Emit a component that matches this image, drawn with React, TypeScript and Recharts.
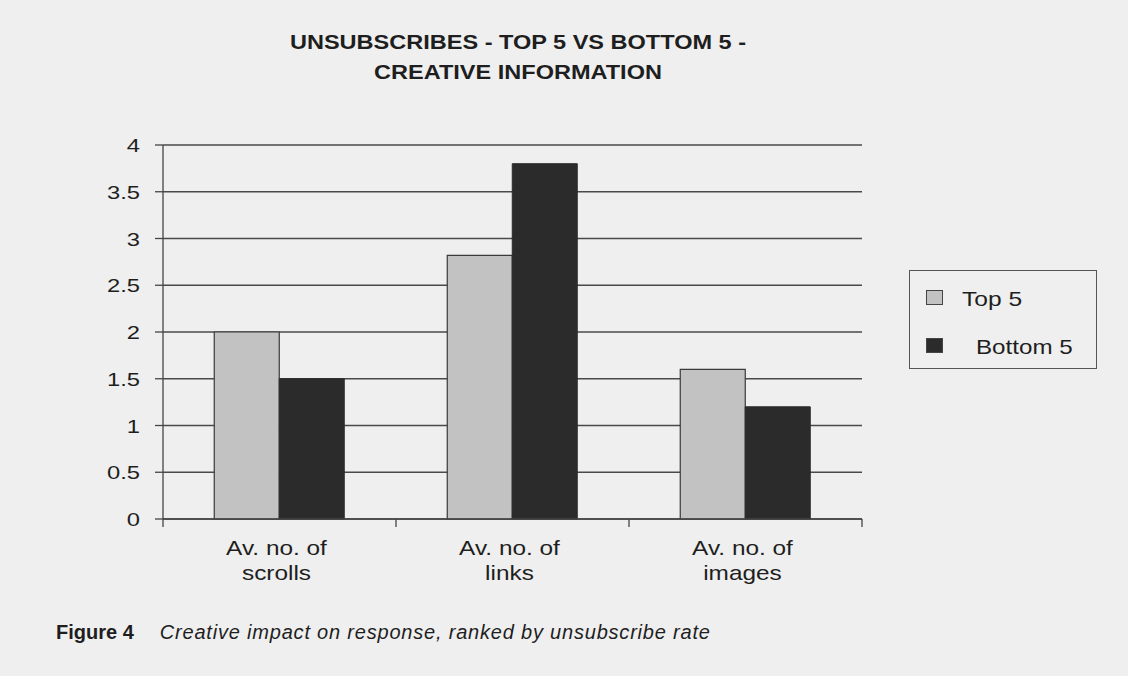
import React from "react";
import { BarChart, Bar, XAxis, YAxis, CartesianGrid, Legend } from "recharts";

const categories = ["Av. no. of\nscrolls", "Av. no. of\nlinks", "Av. no. of\nimages"];
const top5 = [2.0, 2.82, 1.6];
const bottom5 = [1.5, 3.8, 1.2];
const yTicks = [0, 0.5, 1, 1.5, 2, 2.5, 3, 3.5, 4];
const seriesNames = ["Top 5", "Bottom 5"];

const data = categories.map((c, i) => ({ name: c, top: top5[i], bottom: bottom5[i] }));

const FONT = '"Liberation Sans", Arial, Helvetica, sans-serif';
const TEXT = "#1e1e1e";

const XTick = (props: any) => {
  const { x, y, payload, index, width, visibleTicksCount } = props;
  const n = visibleTicksCount || categories.length;
  const band = width / n;
  const lines = String(payload.value).split("\n");
  return (
    <g>
      <line x1={x - band / 2} x2={x - band / 2} y1={y - 8} y2={y} stroke="#444" strokeWidth={1.3} />
      {index === n - 1 && (
        <line x1={x + band / 2} x2={x + band / 2} y1={y - 8} y2={y} stroke="#444" strokeWidth={1.3} />
      )}
      {lines.map((l, i) => (
        <text
          key={i}
          transform={`translate(${x - 3},${y + 28 + i * 25}) scale(1.22,1)`}
          textAnchor="middle"
          fontSize={20}
          fill={TEXT}
          fontFamily={FONT}
        >
          {l}
        </text>
      ))}
    </g>
  );
};

const YTick = (props: any) => {
  const { x, y, payload } = props;
  return (
    <text
      transform={`translate(${x},${y + 7}) scale(1.25,1)`}
      textAnchor="end"
      fontSize={19}
      fill={TEXT}
      fontFamily={FONT}
    >
      {payload.value}
    </text>
  );
};

const LegendBox = () => (
  <div
    style={{
      width: 188,
      height: 99,
      border: "1.5px solid #555",
      boxSizing: "border-box",
      fontFamily: FONT,
      fontSize: 21,
      color: TEXT,
      position: "relative",
    }}
  >
    <div style={{ position: "absolute", left: 16, top: 19, width: 15, height: 13, background: "#c2c2c2", border: "1px solid #444" }} />
    <div style={{ position: "absolute", left: 52, top: 16, whiteSpace: "nowrap", transform: "scaleX(1.17)", transformOrigin: "left center" }}>{seriesNames[0]}</div>
    <div style={{ position: "absolute", left: 16, top: 67, width: 15, height: 13, background: "#2b2b2b", border: "1px solid #444" }} />
    <div style={{ position: "absolute", left: 66, top: 64, whiteSpace: "nowrap", transform: "scaleX(1.15)", transformOrigin: "left center" }}>{seriesNames[1]}</div>
  </div>
);

export default function App() {
  return (
    <div style={{ position: "absolute", left: 0, top: 0, width: 1128, height: 676, background: "#efefef", fontFamily: FONT, overflow: "hidden" }}>
      <div style={{ position: "absolute", left: 0, width: 1036, top: 27, textAlign: "center", fontWeight: "bold", fontSize: 21, color: TEXT, lineHeight: "30px", transform: "scaleX(1.12)", transformOrigin: "518px 0" }}>
        <div>UNSUBSCRIBES - TOP 5 VS BOTTOM 5 -</div>
        <div>CREATIVE INFORMATION</div>
      </div>
      <BarChart
        width={1128}
        height={676}
        data={data}
        margin={{ top: 145, left: 103, right: 78, bottom: 77 }}
        barCategoryGap="22%"
        barGap={0}
      >
        <CartesianGrid horizontal vertical={false} stroke="#4a4a4a" strokeWidth={1.3} />
        <XAxis
          dataKey="name"
          height={80}
          interval={0}
          tickLine={false}
          axisLine={{ stroke: "#444", strokeWidth: 1.3 }}
          tick={<XTick />}
        />
        <YAxis
          width={60}
          domain={[0, 4]}
          ticks={yTicks}
          interval={0}
          tickSize={8}
          tickLine={{ stroke: "#444", strokeWidth: 1.3 }}
          axisLine={{ stroke: "#444", strokeWidth: 1.3 }}
          tick={<YTick />}
          tickMargin={15}
        />
        <Legend
          layout="vertical"
          align="right"
          verticalAlign="top"
          content={<LegendBox />}
          wrapperStyle={{ left: 909, top: 270, width: 188, right: "auto" }}
        />
        <Bar dataKey="top" name={seriesNames[0]} fill="#c2c2c2" stroke="#3a3a3a" strokeWidth={1.2} isAnimationActive={false} />
        <Bar dataKey="bottom" name={seriesNames[1]} fill="#2b2b2b" stroke="#2b2b2b" strokeWidth={1} isAnimationActive={false} />
      </BarChart>
      <div style={{ position: "absolute", left: 56, top: 621, fontSize: 20, color: TEXT, whiteSpace: "nowrap" }}>
        <span style={{ fontWeight: "bold" }}>Figure 4</span>
        <span style={{ fontStyle: "italic", marginLeft: 26, letterSpacing: 0.8 }}>Creative impact on response, ranked by unsubscribe rate</span>
      </div>
    </div>
  );
}
